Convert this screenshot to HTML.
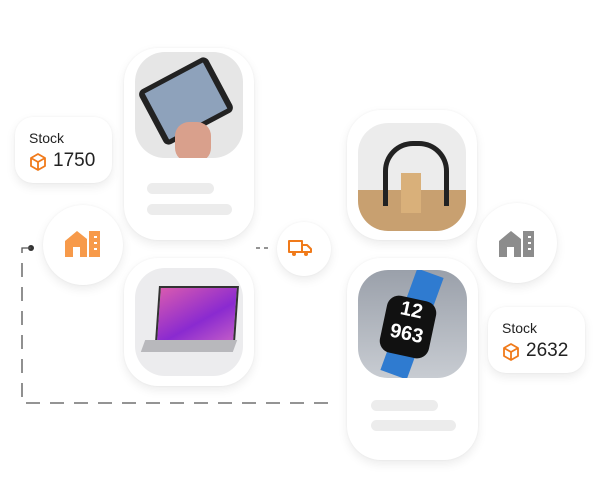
<!DOCTYPE html>
<html><head><style>
body{margin:0;width:600px;height:500px;background:#fff;position:relative;overflow:hidden;font-family:"Liberation Sans",sans-serif}
.card{position:absolute;background:#fff;border-radius:34px;box-shadow:0 4px 10px rgba(0,0,0,.08),0 0 2px rgba(0,0,0,.05)}
.img{position:absolute;border-radius:30px;overflow:hidden}
.bar{position:absolute;height:11px;border-radius:6px;background:#ececec}
.circ{position:absolute;border-radius:50%;background:#fff;box-shadow:0 4px 10px rgba(0,0,0,.08),0 0 2px rgba(0,0,0,.05)}
.stock{position:absolute;background:#fff;border-radius:18px;box-shadow:0 4px 10px rgba(0,0,0,.08),0 0 2px rgba(0,0,0,.05)}
.stock .t{position:absolute;left:14px;top:13px;font-size:14px;color:#222}
.stock .n{position:absolute;left:38px;top:33px;font-size:19px;color:#222}
.stock svg{position:absolute;left:13px;top:35px}
</style></head><body>
<svg style="position:absolute;left:0;top:0" width="600" height="500">
<circle cx="31" cy="248" r="3" fill="#333"/>
<path d="M31 248 H22 V403 H336" fill="none" stroke="#555" stroke-width="1.3" stroke-dasharray="14 10"/>
<path d="M256 248 H272" stroke="#555" stroke-width="1.3" stroke-dasharray="4 4"/>
</svg>
<div class="stock" style="left:15px;top:117px;width:97px;height:66px"><div class="t">Stock</div>
<svg width="20" height="20" viewBox="0 0 20 20"><path d="M10 2 L17 6 V14 L10 18 L3 14 V6 Z M3 6 L10 10 L17 6 M10 10 V18" fill="none" stroke="#f07a1a" stroke-width="1.8" stroke-linejoin="round"/></svg><div class="n">1750</div></div>
<div class="stock" style="left:488px;top:307px;width:97px;height:66px"><div class="t">Stock</div>
<svg width="20" height="20" viewBox="0 0 20 20"><path d="M10 2 L17 6 V14 L10 18 L3 14 V6 Z M3 6 L10 10 L17 6 M10 10 V18" fill="none" stroke="#f07a1a" stroke-width="1.8" stroke-linejoin="round"/></svg><div class="n">2632</div></div>

<div class="card" style="left:124px;top:48px;width:130px;height:192px"></div>
<div class="img" style="left:135px;top:52px;width:108px;height:106px;background:#e6e6e6"><div style="position:absolute;left:12px;top:18px;width:78px;height:62px;background:#222;border-radius:6px;transform:rotate(-28deg)"><div style="position:absolute;left:6px;top:5px;right:6px;bottom:5px;background:#8ea2bb"></div></div><div style="position:absolute;left:40px;top:70px;width:36px;height:40px;background:#d9a08c;border-radius:14px"></div></div>
<div class="bar" style="left:147px;top:183px;width:67px"></div>
<div class="bar" style="left:147px;top:204px;width:85px"></div>

<div class="card" style="left:124px;top:258px;width:130px;height:128px"></div>
<div class="img" style="left:135px;top:268px;width:108px;height:108px;background:#ececee"><div style="position:absolute;left:22px;top:18px;width:76px;height:52px;background:linear-gradient(150deg,#d85ab0,#8a2ad0 60%,#c05ac8);border:2px solid #333;transform:skewX(-4deg)"></div><div style="position:absolute;left:8px;top:72px;width:92px;height:12px;background:#b8b8bc;transform:skewX(-20deg)"></div></div>

<div class="card" style="left:347px;top:110px;width:130px;height:130px"></div>
<div class="img" style="left:358px;top:123px;width:108px;height:108px;background:linear-gradient(#ececec 0 62%,#c8a070 62%)"><div style="position:absolute;left:25px;top:18px;width:56px;height:60px;border:5px solid #222;border-bottom:none;border-radius:30px 30px 0 0"></div><div style="position:absolute;left:43px;top:50px;width:20px;height:40px;background:#d9b07a"></div></div>

<div class="card" style="left:347px;top:258px;width:131px;height:202px"></div>
<div class="img" style="left:358px;top:270px;width:109px;height:108px;background:linear-gradient(#9aa0aa,#c8ccd2)"><div style="position:absolute;left:40px;top:0;width:28px;height:108px;background:#2f7bd0;transform:rotate(20deg)"></div><div style="position:absolute;left:25px;top:28px;width:50px;height:58px;background:#111;border-radius:12px;transform:rotate(12deg);color:#fff;font-size:20px;font-weight:bold;text-align:center;line-height:24px">12<br>963</div></div>
<div class="bar" style="left:371px;top:400px;width:67px"></div>
<div class="bar" style="left:371px;top:420px;width:85px"></div>

<div class="circ" style="left:43px;top:205px;width:80px;height:80px"></div>
<svg style="position:absolute;left:65px;top:229px" width="36" height="30" viewBox="0 0 36 30"><path d="M0 12 L12 2 L22 10 V28 H15 V18 H8 V28 H0 Z" fill="#f79a4a"/><path d="M24 2 H35 V28 H24 Z" fill="#f79a4a"/><path d="M29 8h3M29 14h3M29 20h3" stroke="#fff" stroke-width="2"/></svg>
<div class="circ" style="left:477px;top:203px;width:80px;height:80px"></div>
<svg style="position:absolute;left:499px;top:229px" width="36" height="30" viewBox="0 0 36 30"><path d="M0 12 L12 2 L22 10 V28 H15 V18 H8 V28 H0 Z" fill="#8c8c8c"/><path d="M24 2 H35 V28 H24 Z" fill="#8c8c8c"/><path d="M29 8h3M29 14h3M29 20h3" stroke="#fff" stroke-width="2"/></svg>
<div class="circ" style="left:277px;top:222px;width:54px;height:54px"></div>
<svg style="position:absolute;left:288px;top:239px" width="24" height="18" viewBox="0 0 24 18"><path d="M1 2 H14 V13 H1 Z M14 6 H19 L23 10 V13 H14" fill="none" stroke="#f07a1a" stroke-width="2" stroke-linejoin="round"/><circle cx="6" cy="15" r="2" fill="#f07a1a"/><circle cx="18" cy="15" r="2" fill="#f07a1a"/></svg>
</body></html>
